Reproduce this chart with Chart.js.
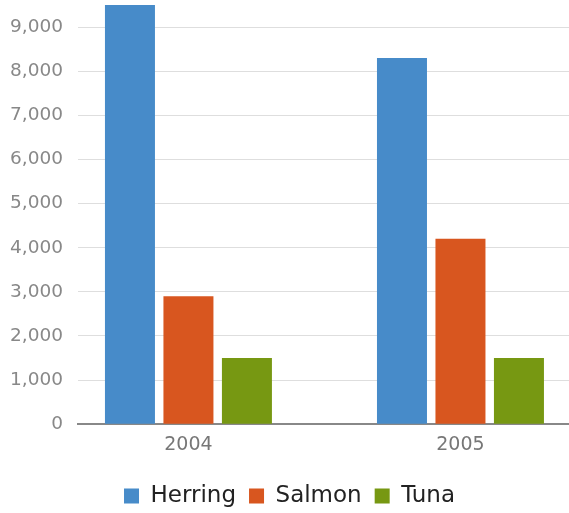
<!DOCTYPE html>
<html>
<head>
<meta charset="utf-8">
<script src="https://cdn.jsdelivr.net/npm/chart.js@4/dist/chart.umd.min.js"></script>
<style>
  html, body { margin: 0; padding: 0; background: #fff; overflow: hidden; }
  #wrap { width: 569px; height: 513px; }
</style>
</head>
<body>
<div id="wrap"><canvas id="myChart" width="569" height="513"></canvas></div>
<script>
// datos del grafico
var years = ["2004", "2005"];
var herring = [9500, 8300];
var salmon = [2900, 4200];
var tuna = [1500, 1500];
var yTicks = [0, 1000, 2000, 3000, 4000, 5000, 6000, 7000, 8000, 9000];

function puntos(values) {
    return values.map(function (v, i) { return { x: i, y: v }; });
}

Chart.defaults.font.family = "'DejaVu Sans', sans-serif";

var ctx = document.getElementById("myChart").getContext("2d");
var myChart = new Chart(ctx, {
    type: "bar",
    data: {
        datasets: [
            { label: "Herring", data: puntos(herring), backgroundColor: "#478bc9" },
            { label: "Salmon", data: puntos(salmon), backgroundColor: "#d8561f" },
            { label: "Tuna", data: puntos(tuna), backgroundColor: "#779812" }
        ]
    },
    options: {
        responsive: false,
        animation: false,
        categoryPercentage: 0.645,
        barPercentage: 0.855,
        layout: { padding: { top: 5, left: 10, right: 0, bottom: -4.5 } },
        plugins: {
            tooltip: { enabled: false },
            legend: {
                position: "bottom",
                labels: {
                    boxWidth: 15,
                    boxHeight: 15,
                    padding: 13,
                    color: "#222",
                    font: { size: 23 }
                }
            }
        },
        scales: {
            x: {
                type: "linear",
                offset: false,
                min: -0.406,
                max: 1.399,
                grid: { display: false, offset: false, drawTicks: false },
                border: { display: true, color: "#888", width: 2 },
                afterBuildTicks: function (scale) {
                    scale.ticks = years.map(function (y, i) { return { value: i }; });
                },
                afterFit: function (scale) { scale.height += 6.5; },
                ticks: {
                    padding: 9,
                    color: "#777",
                    font: { size: 19 },
                    callback: function (value) { return years[value]; }
                }
            },
            y: {
                min: 0,
                max: 9500,
                border: { display: false },
                grid: { color: "#dedede", lineWidth: 1, drawTicks: false },
                afterBuildTicks: function (scale) {
                    scale.ticks = yTicks.map(function (v) { return { value: v }; });
                },
                afterFit: function (scale) {
                    scale.width = 68;
                    scale.paddingTop = 0;
                    scale.paddingBottom = 0;
                },
                ticks: {
                    padding: 15,
                    color: "#888",
                    font: { size: 18.5 },
                    callback: function (value) { return value.toLocaleString("en-US"); }
                }
            }
        }
    }
});
</script>
</body>
</html>
